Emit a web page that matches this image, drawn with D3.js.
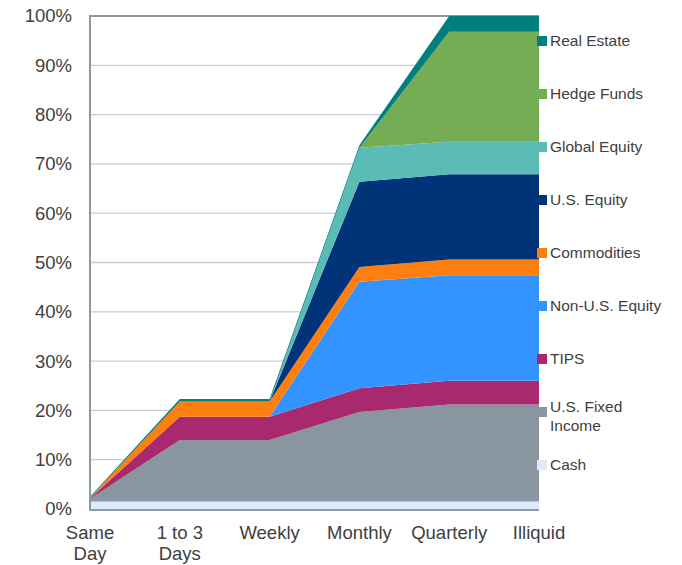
<!DOCTYPE html>
<html>
<head>
<meta charset="utf-8">
<script src="https://cdn.jsdelivr.net/npm/d3@7"></script>
<style>
  body { margin: 0; background: #fff; }
  svg text { font-family: "Liberation Sans", Arial, sans-serif; fill: #404040; }
</style>
</head>
<body>
<svg id="chart" width="682" height="565"></svg>
<script>
// categories along the x axis
const categories = ["Same Day", "1 to 3 Days", "Weekly", "Monthly", "Quarterly", "Illiquid"];
const catLabels = [["Same", "Day"], ["1 to 3", "Days"], ["Weekly"], ["Monthly"], ["Quarterly"], ["Illiquid"]];

// series, bottom to top (percent of portfolio)
const seriesNames = ["Cash", "U.S. Fixed Income", "TIPS", "Non-U.S. Equity", "Commodities",
                     "U.S. Equity", "Global Equity", "Hedge Funds", "Real Estate"];
const cash         = [1.5, 1.5, 1.5, 1.5, 1.5, 1.5];
const usFixed      = [0.6, 12.5, 12.5, 18.2, 19.7, 19.7];
const tips         = [0.1, 4.7, 4.7, 4.8, 4.8, 4.8];
const nonUsEquity  = [0, 0, 0, 21.6, 21.4, 21.4];
const commodities  = [0.1, 3.1, 3.1, 3.0, 3.2, 3.2];
const usEquity     = [0, 0, 0, 17.3, 17.3, 17.3];
const globalEquity = [0, 0, 0, 6.9, 6.6, 6.6];
const hedgeFunds   = [0, 0, 0, 0, 22.3, 22.3];
const realEstate   = [0.2, 0.5, 0.5, 0.5, 3.2, 3.2];
const yTicks = [0, 10, 20, 30, 40, 50, 60, 70, 80, 90, 100];

const colors = {
  "Cash": "#dceafd",
  "U.S. Fixed Income": "#8a969f",
  "TIPS": "#a9296e",
  "Non-U.S. Equity": "#3393ff",
  "Commodities": "#ff7f0e",
  "U.S. Equity": "#003478",
  "Global Equity": "#5bbbb5",
  "Hedge Funds": "#75ad55",
  "Real Estate": "#007f7e"
};

const seriesData = [cash, usFixed, tips, nonUsEquity, commodities, usEquity, globalEquity, hedgeFunds, realEstate];
const rows = categories.map((c, i) => {
  const r = { cat: c };
  seriesNames.forEach((s, j) => { r[s] = seriesData[j][i]; });
  return r;
});

const svg = d3.select("#chart");
const x = d3.scalePoint().domain(categories).range([90, 539]);
const y = d3.scaleLinear().domain([0, 100]).range([509, 16]);

// gridlines
svg.append("g").selectAll("line")
  .data(yTicks.filter(t => t > 0))
  .join("line")
  .attr("x1", 90).attr("x2", 539)
  .attr("y1", d => y(d)).attr("y2", d => y(d))
  .attr("stroke", d => d === 100 ? "#8e99a2" : "#c8cdd2")
  .attr("stroke-width", d => d === 100 ? 2 : 1.3);

const stacked = d3.stack().keys(seriesNames)(rows);
const area = d3.area()
  .x(d => x(d.data.cat))
  .y0(d => y(d[0]))
  .y1(d => y(d[1]));

svg.append("g").selectAll("path")
  .data(stacked)
  .join("path")
  .attr("d", area)
  .attr("fill", d => colors[d.key]);

// axes
svg.append("line").attr("x1", 90).attr("x2", 90).attr("y1", 15).attr("y2", 510)
  .attr("stroke", "#8e99a2").attr("stroke-width", 2);
svg.append("line").attr("x1", 89).attr("x2", 539).attr("y1", 510).attr("y2", 510)
  .attr("stroke", "#8e99a2").attr("stroke-width", 2);

svg.append("g").selectAll("text")
  .data(yTicks)
  .join("text")
  .attr("x", 72)
  .attr("y", d => y(d))
  .attr("dy", "0.35em")
  .attr("text-anchor", "end")
  .style("font-size", "18.5px")
  .text(d => d + "%");

const xl = svg.append("g").selectAll("text")
  .data(categories)
  .join("text")
  .attr("text-anchor", "middle")
  .style("font-size", "18.5px")
  .attr("transform", d => `translate(${x(d)},539)`);
xl.selectAll("tspan")
  .data((d, i) => catLabels[i])
  .join("tspan")
  .attr("x", 0)
  .attr("dy", (d, i) => i === 0 ? 0 : 21)
  .text(d => d);

// legend
const legendNames = seriesNames.slice().reverse();
const lg = svg.append("g").selectAll("g")
  .data(legendNames)
  .join("g")
  .attr("transform", (d, i) => `translate(537,${41 + i * 53})`);
lg.append("rect")
  .attr("x", 0).attr("y", -5)
  .attr("width", 10).attr("height", 10)
  .attr("fill", d => colors[d]);
lg.append("text")
  .attr("x", 13)
  .attr("dy", "0.35em")
  .style("font-size", "15.5px")
  .each(function (d) {
    const t = d3.select(this);
    if (d === "U.S. Fixed Income") {
      t.append("tspan").attr("x", 13).attr("dy", 0).text("U.S. Fixed");
      t.append("tspan").attr("x", 13).attr("dy", 19).text("Income");
    } else {
      t.text(d);
    }
  });
</script>
</body>
</html>
